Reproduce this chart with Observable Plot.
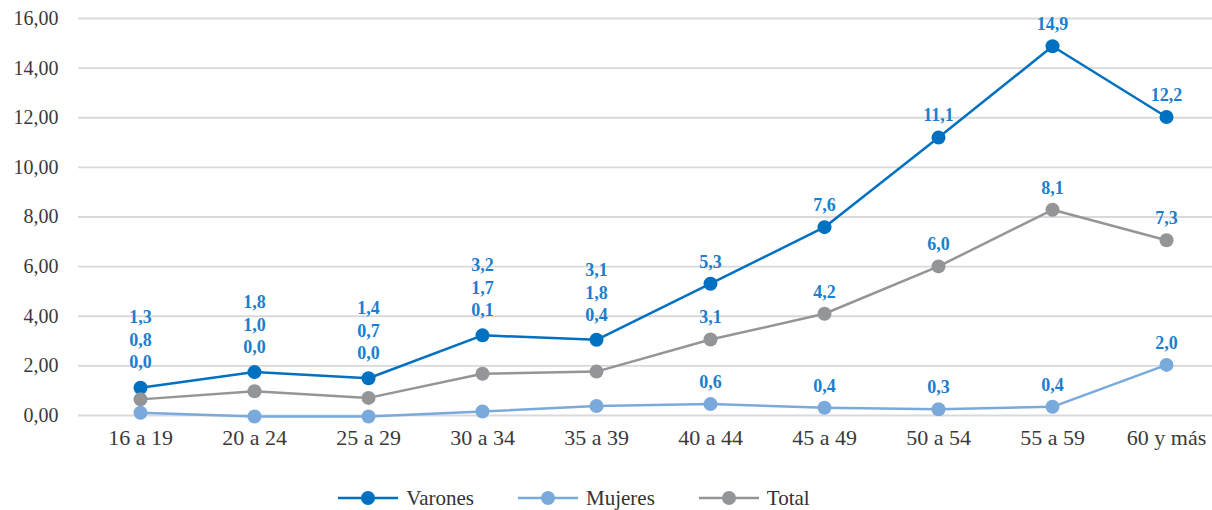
<!DOCTYPE html>
<html>
<head>
<meta charset="utf-8">
<script src="https://cdn.jsdelivr.net/npm/d3@7"></script>
<script src="https://cdn.jsdelivr.net/npm/@observablehq/plot@0.6"></script>
<style>
  body { margin: 0; background: #fff; font-family: "Liberation Serif", "DejaVu Serif", serif; }
  #legend { display: flex; justify-content: center; align-items: center; height: 50px; margin-top: 13px; padding-right: 64px; font-size: 21px; color: #333; }
  .item { display: flex; align-items: center; margin: 0 22px; }
  .item svg { margin-right: 8px; }
</style>
</head>
<body>
<div id="chart"></div>
<div id="legend"></div>
<script>
const categories = ["16 a 19", "20 a 24", "25 a 29", "30 a 34", "35 a 39", "40 a 44", "45 a 49", "50 a 54", "55 a 59", "60 y más"];
const varones = [1.12, 1.75, 1.50, 3.23, 3.05, 5.31, 7.59, 11.2, 14.88, 12.03];
const mujeres = [0.11, -0.04, -0.04, 0.16, 0.38, 0.46, 0.31, 0.25, 0.35, 2.04];
const total = [0.65, 0.98, 0.71, 1.68, 1.77, 3.06, 4.10, 6.01, 8.29, 7.06];
const varonesLabels = ["1,3", "1,8", "1,4", "3,2", "3,1", "5,3", "7,6", "11,1", "14,9", "12,2"];
const totalLabels = ["0,8", "1,0", "0,7", "1,7", "1,8", "3,1", "4,2", "6,0", "8,1", "7,3"];
const mujeresLabels = ["0,0", "0,0", "0,0", "0,1", "0,4", "0,6", "0,4", "0,3", "0,4", "2,0"];
const stackedCategories = ["16 a 19", "20 a 24", "25 a 29", "30 a 34", "35 a 39"];
const seriesNames = ["Varones", "Mujeres", "Total"];
const seriesColors = ["#0070c0", "#7aaadc", "#939598"];
const yTicks = [0, 2, 4, 6, 8, 10, 12, 14, 16];

const labelColor = "#1a7fd0";
const fmt = d => d3.format(".2f")(d).replace(".", ",");

function rows(values, labels, series) {
  return categories.map((c, i) => ({cat: c, value: values[i], label: labels[i], series, vy: varones[i], stacked: stackedCategories.includes(c)}));
}
const vRows = rows(varones, varonesLabels, "Varones");
const mRows = rows(mujeres, mujeresLabels, "Mujeres");
const tRows = rows(total, totalLabels, "Total");
const colorOf = s => seriesColors[seriesNames.indexOf(s)];

const textOpts = {fill: labelColor, fontWeight: "bold", fontSize: 18, fontFamily: "Liberation Serif, serif"};

const chart = Plot.plot({
  width: 1212,
  height: 460,
  marginTop: 18,
  marginBottom: 45,
  marginLeft: 78,
  marginRight: 0,
  style: {fontFamily: "Liberation Serif, serif", fontSize: "20px", color: "#3a3a3a", background: "#fff"},
  x: {type: "point", domain: categories, range: [139, 1166], padding: 0, label: null},
  y: {domain: [0, 16], label: null},
  marks: [
    Plot.ruleY(yTicks, {stroke: "#d9d9d9", strokeWidth: 1.8}),
    Plot.axisY(yTicks, {tickSize: 0, tickPadding: 20, tickFormat: fmt, fontSize: 20, label: null}),
    Plot.axisX({tickSize: 0, tickPadding: 14, fontSize: 22, label: null}),
    ...[[vRows, "Varones"], [tRows, "Total"], [mRows, "Mujeres"]].flatMap(([data, s]) => [
      Plot.line(data, {x: "cat", y: "value", stroke: colorOf(s), strokeWidth: 2.5}),
      Plot.dot(data, {x: "cat", y: "value", r: 7, fill: colorOf(s), stroke: "none"})
    ]),
    // stacked labels above the Varones point
    Plot.text(vRows.filter(d => d.stacked), {x: "cat", y: "vy", text: "label", dy: -70, ...textOpts}),
    Plot.text(tRows.filter(d => d.stacked), {x: "cat", y: "vy", text: "label", dy: -47, ...textOpts}),
    Plot.text(mRows.filter(d => d.stacked), {x: "cat", y: "vy", text: "label", dy: -25, ...textOpts}),
    // regular labels above each point
    Plot.text([...vRows, ...tRows, ...mRows].filter(d => !d.stacked), {x: "cat", y: "value", text: "label", dy: -22, ...textOpts})
  ]
});
document.getElementById("chart").appendChild(chart);

const legend = document.getElementById("legend");
seriesNames.forEach((s, i) => {
  const item = document.createElement("div");
  item.className = "item";
  item.innerHTML = `<svg width="60" height="20"><line x1="0" x2="60" y1="10" y2="10" stroke="${seriesColors[i]}" stroke-width="2.5"/><circle cx="30" cy="10" r="7" fill="${seriesColors[i]}"/></svg><span>${s}</span>`;
  legend.appendChild(item);
});
</script>
</body>
</html>
